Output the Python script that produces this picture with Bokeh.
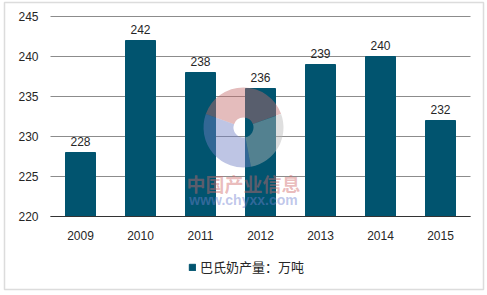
from bokeh.plotting import figure
from bokeh.models import ColumnDataSource, Legend, LegendItem, BoxAnnotation, Range1d
from bokeh.core.properties import value
from bokeh.embed import file_html
from bokeh.resources import INLINE

years = ["2009", "2010", "2011", "2012", "2013", "2014", "2015"]
output = [228, 242, 238, 236, 239, 240, 232]
series_name = "巴氏奶产量：万吨"
y_ticks = [220, 225, 230, 235, 240, 245]
watermark_cn = "中国产业信息"
watermark_url = "www.chyxx.com"

BAR = "#01546F"
TXT = "#262626"
GRID = "#8c8c8c"
FONT = "Liberation Sans"

W, H = 487, 295
# plot-area geometry (pixels): left 50, right 470, top 16, bottom 216
L, R, T, B = 50, 470, 16, 216
n = len(years)
px_per_cat = (R - L) / n
px_per_unit = (B - T) / (y_ticks[-1] - y_ticks[0])
x_start = -0.5 - L / px_per_cat
x_end = x_start + W / px_per_cat
y_end = y_ticks[-1] + T / px_per_unit
y_start = y_end - H / px_per_unit


def px_x(px):
    return x_start + px / px_per_cat


def px_y(py):
    return y_end - py / px_per_unit


xs = list(range(n))
src = ColumnDataSource(dict(x=xs, top=output, label=[str(v) for v in output], year=years))
tick_src = ColumnDataSource(dict(y=y_ticks, label=[str(t) for t in y_ticks]))

p = figure(width=W, height=H, x_range=Range1d(x_start, x_end), y_range=Range1d(y_start, y_end),
           output_backend="svg", toolbar_location=None,
           x_axis_location=None, y_axis_location=None,
           min_border=0)
p.outline_line_color = None
p.background_fill_color = "white"
p.border_fill_color = "white"
p.xgrid.visible = False
p.ygrid.visible = False

# horizontal grid lines across plot area
p.segment(x0=-0.5, x1=n - 0.5, y0="y", y1="y", source=tick_src, line_color=GRID, line_width=1)

bars = p.vbar(x="x", top="top", bottom=y_ticks[0], width=0.5, source=src, color=BAR)

# x axis line
p.segment(x0=[-0.5], x1=[n - 0.5], y0=[y_ticks[0]], y1=[y_ticks[0]], line_color="#333333", line_width=1)

# value labels
p.text(x="x", y="top", text="label", source=src, text_align="center",
       text_baseline="alphabetic", y_offset=-11, text_font=value(FONT),
       text_font_size="12px", text_color=TXT)

# category labels
p.text(x="x", y=y_ticks[0], text="year", source=src, text_align="center",
       text_baseline="alphabetic", y_offset=19, text_font=value(FONT),
       text_font_size="12px", text_color=TXT)

# y tick labels
p.text(x=-0.5, y="y", text="label", source=tick_src, text_align="right",
       text_baseline="middle", x_offset=-12, text_font=value(FONT),
       text_font_size="12px", text_color=TXT)

# faint watermark (logo ring + text)
cx, cy = px_x(243), px_y(127)
p.annular_wedge(x=cx, y=cy, inner_radius=10, outer_radius=40,
                inner_radius_units="screen", outer_radius_units="screen",
                start_angle=[0.35, 2.8, 4.9], end_angle=[2.8, 4.9, 6.63],
                start_angle_units="rad", end_angle_units="rad",
                color=["#c46a6a", "#6f7fc4", "#b8b8b8"], alpha=0.45, line_alpha=0)
p.text(x=[px_x(243)], y=[px_y(183)], text=[watermark_cn], text_align="center",
       text_baseline="middle", text_font=value("Noto Sans CJK SC"), text_font_style="bold",
       text_font_size="19px", text_color="#d06a6a", text_alpha=0.45)
p.text(x=[px_x(243)], y=[px_y(199)], text=[watermark_url], text_align="center",
       text_baseline="middle", text_font=value(FONT), text_font_style="bold",
       text_font_size="14px", text_color="#6f82d0", text_alpha=0.45)

legend = Legend(items=[LegendItem(label=series_name, renderers=[bars])],
                location=(188, 19), orientation="horizontal",
                glyph_width=8, glyph_height=8, label_standoff=4,
                padding=0, margin=0, border_line_color=None,
                background_fill_alpha=0,
                label_text_font="Noto Sans CJK SC", label_text_font_size="13px",
                label_text_color=TXT)
p.add_layout(legend, "center")

border = BoxAnnotation(left=4, right=483, top=2, bottom=289,
                       left_units="canvas", right_units="canvas",
                       top_units="canvas", bottom_units="canvas",
                       fill_alpha=0, line_color=GRID, line_width=1.5)
p.add_layout(border)

open("out.html", "w").write(file_html(p, INLINE))
